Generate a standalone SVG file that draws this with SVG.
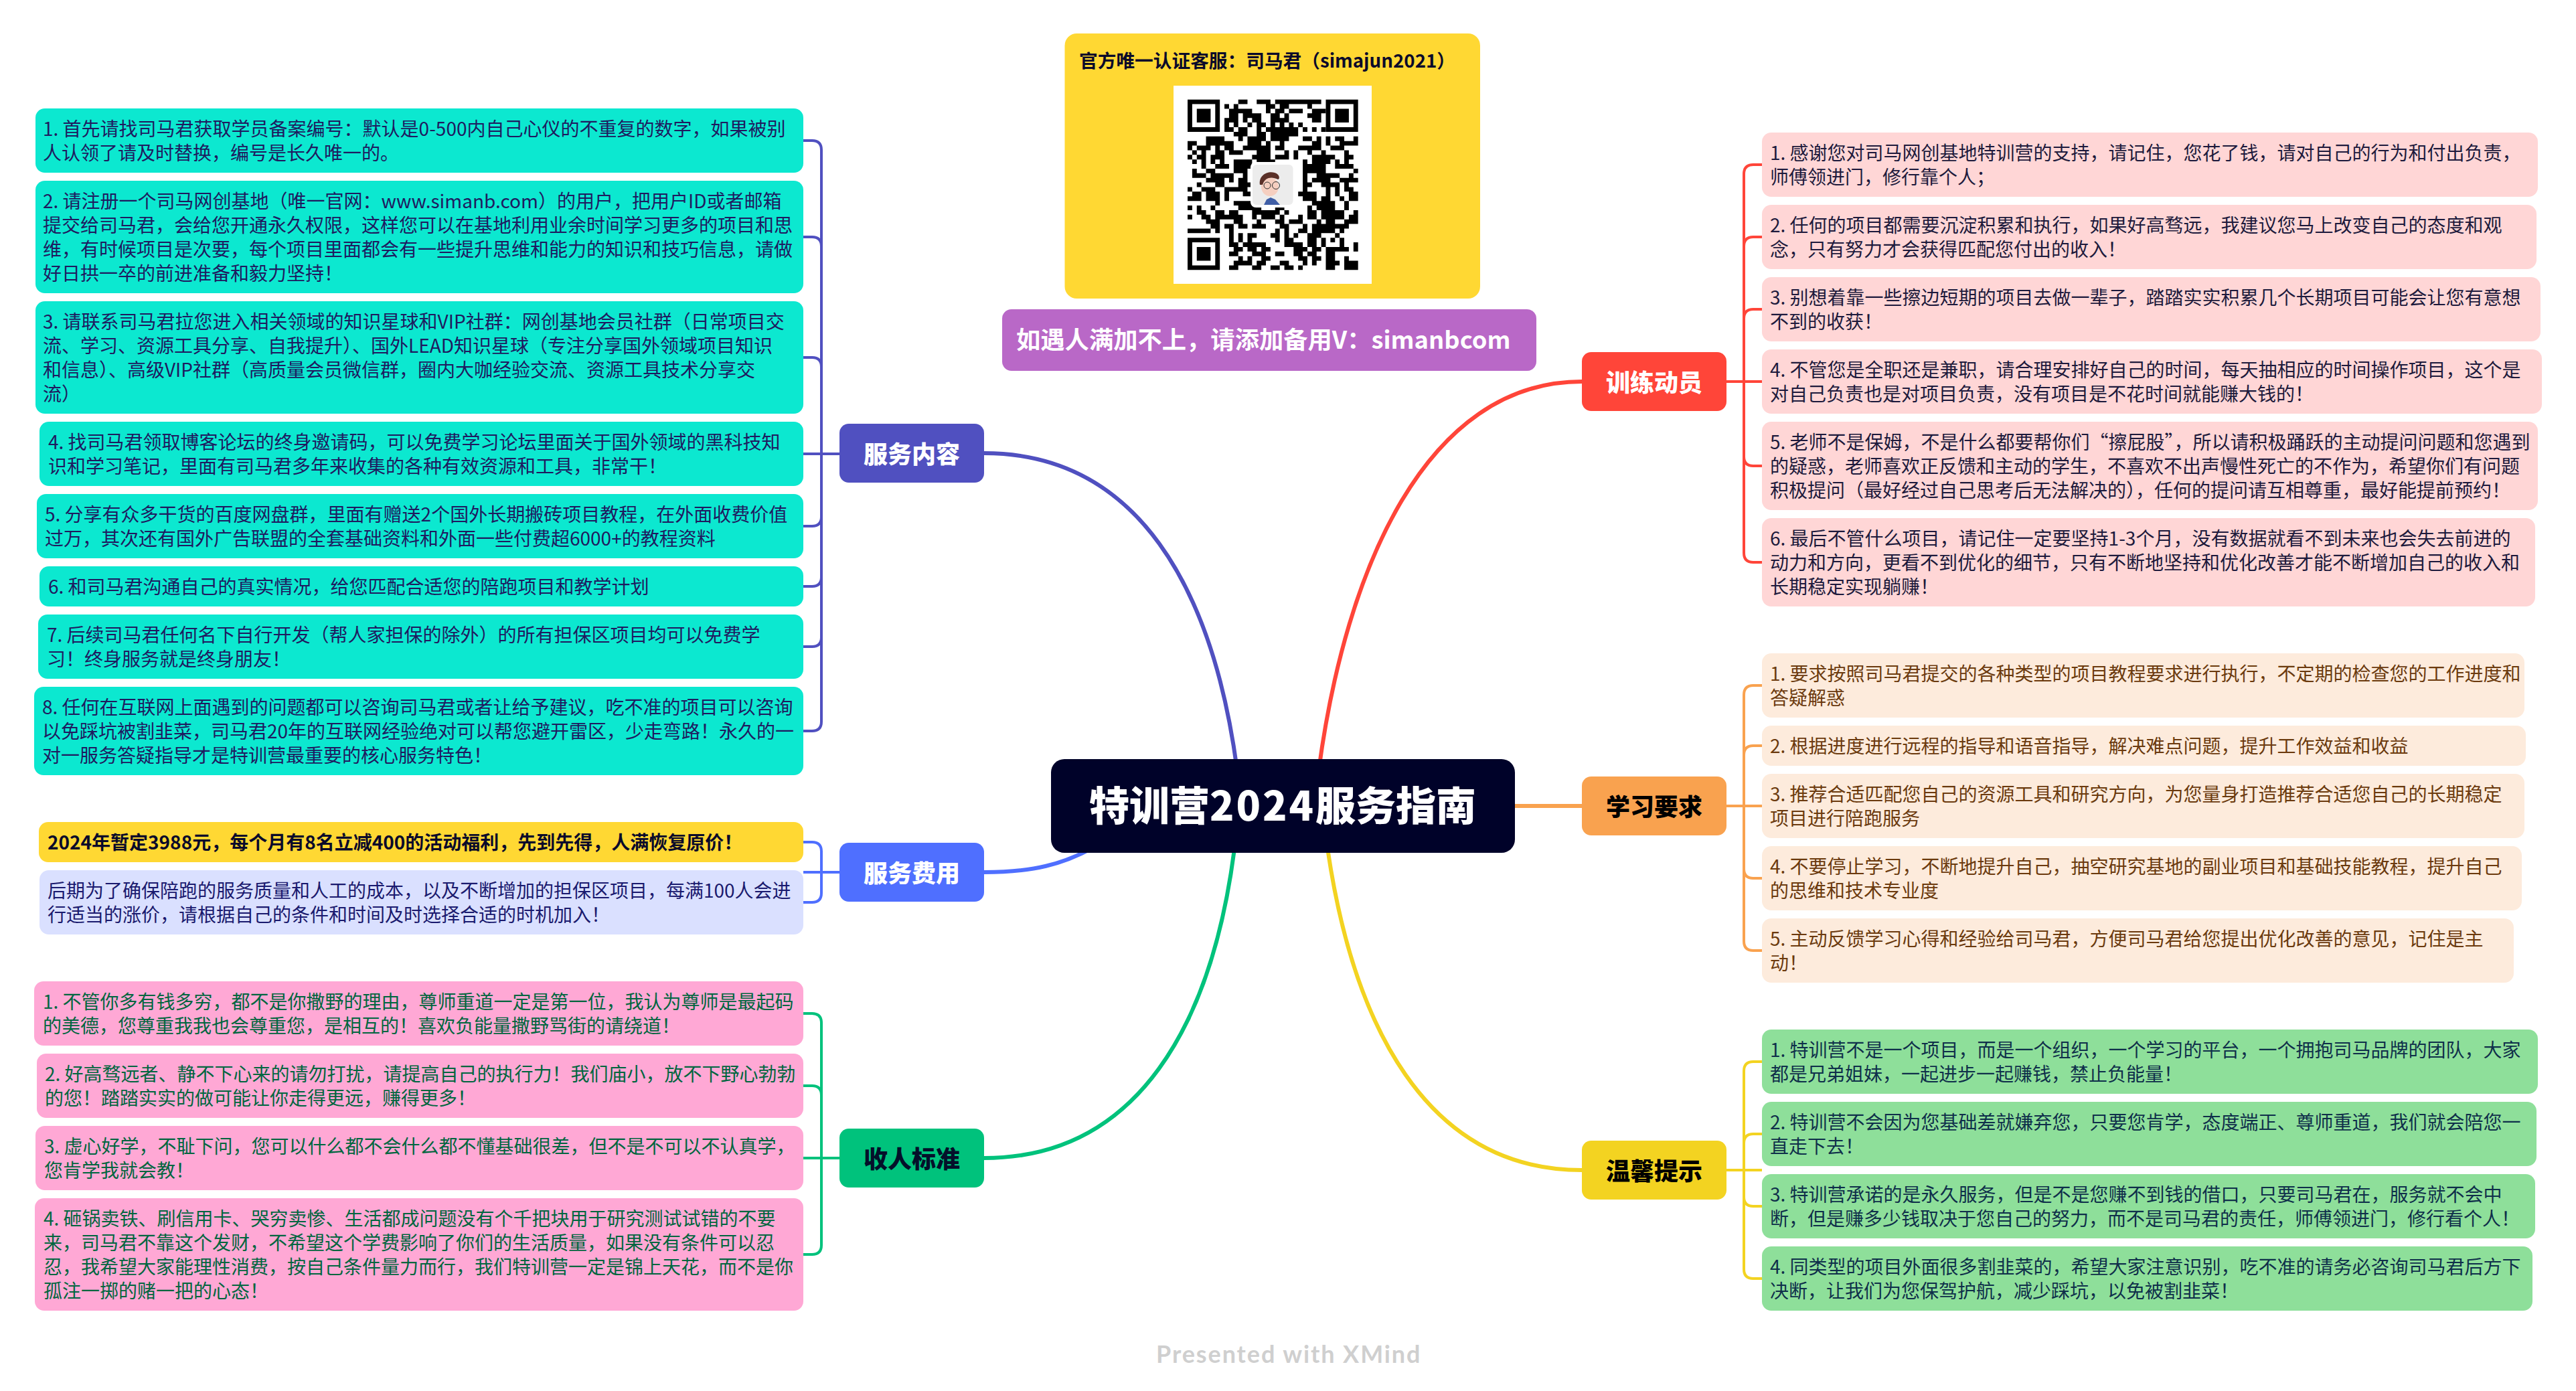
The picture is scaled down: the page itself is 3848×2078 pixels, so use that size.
<svg xmlns="http://www.w3.org/2000/svg" width="3848" height="2078" viewBox="0 0 3848 2078">
<style>
text{font-family:"Noto Sans CJK SC","Noto Sans",sans-serif;white-space:pre}
.t{font-size:28px;transform:translateY(1px)}
.nt{font-size:36px;font-weight:900;text-anchor:middle;transform:translateY(2px)}
.w{fill:#fff}.k{fill:#000}
.a{fill:#1f1a5f}.bf{fill:#1a1a6e}.g{fill:#00663f}.r{fill:#1d1a3c}.o{fill:#6b3a0e}.e{fill:#0f2f4a}
.mb{fill:#0ce8d0}.mp{fill:#ffa8d5}.mr{fill:#ffd6d6}.mo{fill:#fdebdc}.mg{fill:#8edf9a}
.c{fill:none;stroke-linecap:butt}
</style>
<rect width="3848" height="2078" fill="#fff"/>
<g id="connectors" class="c" fill="none" stroke-width="4">
<g stroke-width="6" fill="none">
<path d="M1848 1150C1812 880 1700 677 1470 677" stroke="#5050c0"/>
<path d="M1640 1262C1590 1292 1540 1303 1470 1303" stroke="#4f6fff"/>
<path d="M1845 1260C1812 1530 1700 1730 1470 1730" stroke="#00c27c"/>
<path d="M1970 1150C2010 850 2130 570 2363 570" stroke="#ff4539"/>
<path d="M2250 1204H2363" stroke="#f9a24f"/>
<path d="M1982 1260C2020 1530 2130 1748 2363 1748" stroke="#f3d321"/>
</g>
<g stroke="#5050c0" fill="none"><path d="M1200 210H1213Q1227 210 1227 224V1078Q1227 1092 1213 1092H1200M1200 354H1213Q1227 354 1227 368M1200 534H1213Q1227 534 1227 548M1200 678H1254M1227 772Q1227 786 1213 786H1200M1227 862Q1227 876 1213 876H1200M1227 952Q1227 966 1213 966H1200"/></g>
<g stroke="#4f6fff" fill="none"><path d="M1200 1258H1213Q1227 1258 1227 1272V1334Q1227 1348 1213 1348H1200M1200 1303H1254"/></g>
<g stroke="#00c27c" fill="none"><path d="M1200 1514H1213Q1227 1514 1227 1528V1860Q1227 1874 1213 1874H1200M1200 1622H1213Q1227 1622 1227 1636M1200 1730H1254"/></g>
<g stroke="#ff4539" fill="none"><path d="M2632 246H2619Q2605 246 2605 260V826Q2605 840 2619 840H2632M2632 354H2619Q2605 354 2605 368M2632 462H2619Q2605 462 2605 476M2579 570H2632M2605 682Q2605 696 2619 696H2632"/></g>
<g stroke="#f9a24f" fill="none"><path d="M2632 1024H2619Q2605 1024 2605 1038V1406Q2605 1420 2619 1420H2632M2632 1114H2619Q2605 1114 2605 1128M2579 1204H2632M2605 1298Q2605 1312 2619 1312H2632"/></g>
<g stroke="#f3d321" fill="none"><path d="M2632 1586H2619Q2605 1586 2605 1600V1896Q2605 1910 2619 1910H2632M2632 1694H2619Q2605 1694 2605 1708M2579 1748H2632M2605 1788Q2605 1802 2619 1802H2632"/></g>
</g>

<g id="center"><rect x="1570" y="1134" width="693" height="140" rx="20" fill="#000229"/><text x="1916" y="1226" font-size="60" font-weight="900" fill="#fff" text-anchor="middle">特训营<tspan letter-spacing="3">2024</tspan>服务指南</text></g>

<g id="qr-card">
<rect x="1590.500" y="50" width="620.500" height="396" rx="18" fill="#ffd833"/>
<text x="1612" y="101" font-size="27.700" font-weight="700" fill="#0a0a2a">官方唯一认证客服：司马君（simajun2021）</text>
<rect x="1753" y="128" width="296" height="296" fill="#fff"/>
<g transform="translate(1774 148.700) scale(6.883)">
<path d="M0 0h7v7h-7zM1 1v5h5v-5zM30 0h7v7h-7zM31 1v5h5v-5zM0 30h7v7h-7zM1 31v5h5v-5z" fill-rule="evenodd" fill="#000"/>
<path d="M2 2h3v3h-3zM32 2h3v3h-3zM2 32h3v3h-3z" fill="#000"/>
<path fill="none" stroke="#000" stroke-width="1" d="M11 .5h2m2 0h3m1 0h10M8 1.500h1m1 0h1m6 0h2m1 0h2m4 0h1M9 2.500h5m3 0h1m1 0h2m1 0h3m2 0h3M9 3.500h2m1 0h4m2 0h2m1 0h1m4 0h3M8 4.500h3m1 0h1m1 0h2m2 0h4m5 0h2M8 5.500h1m1 0h1m2 0h1m1 0h2m1 0h1m1 0h1m1 0h1m1 0h1M8 6.500h2m1 0h2m2 0h1m1 0h4m0 0h3m1 0h1m1 0h1m1 0h1M10 7.500h3m2 0h2m1 0h6M4 8.500h4m3 0h1m1 0h4m1 0h4m3 0h2m1 0h1m1 0h1m1 0h2m2 0h1M0 9.500h2m2 0h6m3 0h3m1 0h1m2 0h1m6 0h2m1 0h1m2 0h4M0 10.500h1m1 0h3m1 0h1m1 0h2m2 0h6m1 0h2m3 0h5m2 0h3M1 11.500h1m1 0h1m2 0h2m1 0h3m3 0h3m3 0h1m1 0h1m2 0h1m2 0h1m4 0h1M0 12.500h1m1 0h2m1 0h3m6 0h4m1 0h3m1 0h1m3 0h5m2 0h2M1 13.500h1m1 0h1m1 0h1m1 0h1m2 0h4m1 0h4m6 0h1m1 0h4m1 0h1m1 0h1M3 14.500h1m2 0h3m1 0h4m11 0h5m2 0h4M1 15.500h1m2 0h2m4 0h3m12 0h5m6 0h1M1 16.500h3m1 0h5m2 0h1m12 0h1m2 0h5m2 0h1M4 17.500h4m1 0h1m1 0h2m12 0h1m1 0h4m2 0h4M2 18.500h1m3 0h2m3 0h3m11 0h2m2 0h4m1 0h1M0 19.500h1m2 0h3m2 0h5m12 0h1m4 0h1m1 0h1m1 0h2M1 20.500h2m1 0h3m1 0h1m3 0h2m10 0h4m2 0h1m1 0h1m2 0h2M0 21.500h3m1 0h3m1 0h1m16 0h3m1 0h2m2 0h1m1 0h2M6 22.500h1m3 0h4m13 0h5m2 0h1M0 23.500h1m1 0h1m2 0h1m5 0h5m3 0h2m5 0h1m1 0h4m2 0h1M2 24.500h2m2 0h2m1 0h2m3 0h6m1 0h1m4 0h2m1 0h5m2 0h1M0 25.500h1m2 0h2m1 0h6m2 0h1m1 0h3m1 0h1m3 0h1m1 0h2m1 0h5m1 0h2M4 26.500h3m3 0h2m3 0h1m3 0h2m1 0h3m3 0h1m1 0h2m2 0h3M5 27.500h2m1 0h2m1 0h2m1 0h3m3 0h2m3 0h1m1 0h8M0 28.500h5m1 0h1m2 0h1m9 0h1m1 0h1m2 0h2m1 0h5m1 0h1M9 29.500h1m1 0h1m1 0h2m3 0h2m1 0h1m1 0h1m2 0h2m0 0h1m3 0h1M9 30.500h1m1 0h1m1 0h1m5 0h1m1 0h2m3 0h2m1 0h1m1 0h1m1 0h1M9 31.500h2m1 0h5m4 0h4m1 0h2m1 0h1m3 0h1m2 0h1M10 32.500h2m1 0h2m1 0h2m5 0h3m1 0h2m1 0h5m1 0h1M9 33.500h2m3 0h3m2 0h2m2 0h2m1 0h2m2 0h2M11 34.500h1m1 0h1m2 0h2m6 0h2m1 0h2m1 0h2m2 0h1M10 35.500h4m1 0h2m3 0h2m3 0h1m1 0h1m2 0h3m1 0h3M9 36.500h2m3 0h2m2 0h2m1 0h2m1 0h1m5 0h2m2 0h3"/>
</g>
<rect x="1868" y="242" width="67" height="68" rx="8" fill="#fff"/>
<rect x="1871" y="246" width="60.500" height="60" rx="6" fill="#ececec"/>
<path d="M1888 306L1892 298 1898 295 1905 298 1912 306Z" fill="#3f5ea6"/>
<ellipse cx="1897" cy="279" rx="13" ry="14" fill="#f6cfc0"/>
<path d="M1882 276C1880 262 1893 255 1904 258 1912 260 1912 268 1909 268 1900 264 1890 264 1886 276Z" fill="#5a3028"/>
<circle cx="1893" cy="277" r="5" fill="none" stroke="#333" stroke-width="1"/><circle cx="1906" cy="277" r="5.500" fill="none" stroke="#333" stroke-width="1"/>
</g>

<g id="backup-note"><rect x="1497" y="462" width="798" height="92" rx="14" fill="#b968c7"/><text x="1518" y="521" font-size="36.300" font-weight="700" fill="#fff">如遇人满加不上，请添加备用V：simanbcom</text></g>

<g id="branch-fuwu">
<g id="node-fuwu"><rect x="1254" y="633" width="216" height="88" rx="14" fill="#5050c0"/><text class="nt w" x="1362" y="690">服务内容</text></g>
<g id="fw1"><rect class="mb" x="53" y="162" width="1147" height="96" rx="14"/><text class="t a" x="64" y="202">1. 首先请找司马君获取学员备案编号：默认是0-500内自己心仪的不重复的数字，如果被别</text><text class="t a" x="64" y="238">人认领了请及时替换，编号是长久唯一的。</text></g>
<g id="fw2"><rect class="mb" x="53" y="270" width="1147" height="168" rx="14"/><text class="t a" x="64" y="310">2. 请注册一个司马网创基地（唯一官网：www.simanb.com）的用户，把用户ID或者邮箱</text><text class="t a" x="64" y="346">提交给司马君，会给您开通永久权限，这样您可以在基地利用业余时间学习更多的项目和思</text><text class="t a" x="64" y="382">维，有时候项目是次要，每个项目里面都会有一些提升思维和能力的知识和技巧信息，请做</text><text class="t a" x="64" y="418">好日拱一卒的前进准备和毅力坚持！</text></g>
<g id="fw3"><rect class="mb" x="53" y="450" width="1147" height="168" rx="14"/><text class="t a" x="64" y="490">3. 请联系司马君拉您进入相关领域的知识星球和VIP社群：网创基地会员社群（日常项目交</text><text class="t a" x="64" y="526">流、学习、资源工具分享、自我提升）、国外LEAD知识星球（专注分享国外领域项目知识</text><text class="t a" x="64" y="562">和信息）、高级VIP社群（高质量会员微信群，圈内大咖经验交流、资源工具技术分享交</text><text class="t a" x="64" y="598">流）</text></g>
<g id="fw4"><rect class="mb" x="59" y="630" width="1141" height="96" rx="14"/><text class="t a" x="72" y="670">4. 找司马君领取博客论坛的终身邀请码，可以免费学习论坛里面关于国外领域的黑科技知</text><text class="t a" x="72" y="706">识和学习笔记，里面有司马君多年来收集的各种有效资源和工具，非常干！</text></g>
<g id="fw5"><rect class="mb" x="55" y="738" width="1145" height="96" rx="14"/><text class="t a" x="67" y="778">5. 分享有众多干货的百度网盘群，里面有赠送2个国外长期搬砖项目教程，在外面收费价值</text><text class="t a" x="67" y="814">过万，其次还有国外广告联盟的全套基础资料和外面一些付费超6000+的教程资料</text></g>
<g id="fw6"><rect class="mb" x="59" y="846" width="1141" height="60" rx="14"/><text class="t a" x="72" y="886">6. 和司马君沟通自己的真实情况，给您匹配合适您的陪跑项目和教学计划</text></g>
<g id="fw7"><rect class="mb" x="57" y="918" width="1143" height="96" rx="14"/><text class="t a" x="70" y="958">7. 后续司马君任何名下自行开发（帮人家担保的除外）的所有担保区项目均可以免费学</text><text class="t a" x="70" y="994">习！终身服务就是终身朋友！</text></g>
<g id="fw8"><rect class="mb" x="51" y="1026" width="1149" height="132" rx="14"/><text class="t a" x="63" y="1066">8. 任何在互联网上面遇到的问题都可以咨询司马君或者让给予建议，吃不准的项目可以咨询</text><text class="t a" x="63" y="1102">以免踩坑被割韭菜，司马君20年的互联网经验绝对可以帮您避开雷区，少走弯路！永久的一</text><text class="t a" x="63" y="1138">对一服务答疑指导才是特训营最重要的核心服务特色！</text></g>
</g>

<g id="branch-fee">
<g id="node-fee"><rect x="1254" y="1259" width="216" height="88" rx="14" fill="#4f6fff"/><text class="nt w" x="1362" y="1316">服务费用</text></g>
<g id="fee1"><rect x="58" y="1228" width="1142" height="60" rx="14" fill="#ffd833"/><text class="t" font-weight="700" fill="#0a0a2a" x="71" y="1268">2024年暂定3988元，每个月有8名立减400的活动福利，先到先得，人满恢复原价！</text></g>
<g id="fee2"><rect x="59" y="1300" width="1141" height="96" rx="14" fill="#dae0ff"/><text class="t bf" x="71" y="1340">后期为了确保陪跑的服务质量和人工的成本，以及不断增加的担保区项目，每满100人会进</text><text class="t bf" x="71" y="1376">行适当的涨价，请根据自己的条件和时间及时选择合适的时机加入！</text></g>
</g>

<g id="branch-standard">
<g id="node-standard"><rect x="1254" y="1686" width="216" height="88" rx="14" fill="#00c27c"/><text class="nt" fill="#04102a" x="1362" y="1743">收人标准</text></g>
<g id="st1"><rect class="mp" x="51" y="1466" width="1149" height="96" rx="14"/><text class="t g" x="64" y="1506">1. 不管你多有钱多穷，都不是你撒野的理由，尊师重道一定是第一位，我认为尊师是最起码</text><text class="t g" x="64" y="1542">的美德，您尊重我我也会尊重您，是相互的！喜欢负能量撒野骂街的请绕道！</text></g>
<g id="st2"><rect class="mp" x="55" y="1574" width="1145" height="96" rx="14"/><text class="t g" x="67" y="1614">2. 好高骛远者、静不下心来的请勿打扰，请提高自己的执行力！我们庙小，放不下野心勃勃</text><text class="t g" x="67" y="1650">的您！踏踏实实的做可能让你走得更远，赚得更多！</text></g>
<g id="st3"><rect class="mp" x="53" y="1682" width="1147" height="96" rx="14"/><text class="t g" x="66" y="1722">3. 虚心好学，不耻下问，您可以什么都不会什么都不懂基础很差，但不是不可以不认真学，</text><text class="t g" x="66" y="1758">您肯学我就会教！</text></g>
<g id="st4"><rect class="mp" x="52" y="1790" width="1148" height="168" rx="14"/><text class="t g" x="65" y="1830">4. 砸锅卖铁、刷信用卡、哭穷卖惨、生活都成问题没有个千把块用于研究测试试错的不要</text><text class="t g" x="65" y="1866">来，司马君不靠这个发财，不希望这个学费影响了你们的生活质量，如果没有条件可以忍</text><text class="t g" x="65" y="1902">忍，我希望大家能理性消费，按自己条件量力而行，我们特训营一定是锦上天花，而不是你</text><text class="t g" x="65" y="1938">孤注一掷的赌一把的心态！</text></g>
</g>

<g id="branch-train">
<g id="node-train"><rect x="2363" y="526" width="216" height="88" rx="14" fill="#ff4539"/><text class="nt w" x="2471" y="583">训练动员</text></g>
<g id="tr1"><rect class="mr" x="2632" y="198" width="1159" height="96" rx="14"/><text class="t r" x="2644" y="238">1. 感谢您对司马网创基地特训营的支持，请记住，您花了钱，请对自己的行为和付出负责，</text><text class="t r" x="2644" y="274">师傅领进门，修行靠个人；</text></g>
<g id="tr2"><rect class="mr" x="2632" y="306" width="1157" height="96" rx="14"/><text class="t r" x="2644" y="346">2. 任何的项目都需要沉淀积累和执行，如果好高骛远，我建议您马上改变自己的态度和观</text><text class="t r" x="2644" y="382">念，只有努力才会获得匹配您付出的收入！</text></g>
<g id="tr3"><rect class="mr" x="2632" y="414" width="1163" height="96" rx="14"/><text class="t r" x="2644" y="454">3. 别想着靠一些擦边短期的项目去做一辈子，踏踏实实积累几个长期项目可能会让您有意想</text><text class="t r" x="2644" y="490">不到的收获！</text></g>
<g id="tr4"><rect class="mr" x="2632" y="522" width="1165" height="96" rx="14"/><text class="t r" x="2644" y="562">4. 不管您是全职还是兼职，请合理安排好自己的时间，每天抽相应的时间操作项目，这个是</text><text class="t r" x="2644" y="598">对自己负责也是对项目负责，没有项目是不花时间就能赚大钱的！</text></g>
<g id="tr5"><rect class="mr" x="2632" y="630" width="1159" height="132" rx="14"/><text class="t r" x="2644" y="670">5. 老师不是保姆，不是什么都要帮你们“擦屁股”，所以请积极踊跃的主动提问问题和您遇到</text><text class="t r" x="2644" y="706">的疑惑，老师喜欢正反馈和主动的学生，不喜欢不出声慢性死亡的不作为，希望你们有问题</text><text class="t r" x="2644" y="742">积极提问（最好经过自己思考后无法解决的），任何的提问请互相尊重，最好能提前预约！</text></g>
<g id="tr6"><rect class="mr" x="2632" y="774" width="1155" height="132" rx="14"/><text class="t r" x="2644" y="814">6. 最后不管什么项目，请记住一定要坚持1-3个月，没有数据就看不到未来也会失去前进的</text><text class="t r" x="2644" y="850">动力和方向，更看不到优化的细节，只有不断地坚持和优化改善才能不断增加自己的收入和</text><text class="t r" x="2644" y="886">长期稳定实现躺赚！</text></g>
</g>

<g id="branch-study">
<g id="node-study"><rect x="2363" y="1160" width="216" height="88" rx="14" fill="#f9a24f"/><text class="nt k" x="2471" y="1217">学习要求</text></g>
<g id="sd1"><rect class="mo" x="2632" y="976" width="1139" height="96" rx="14"/><text class="t o" x="2644" y="1016">1. 要求按照司马君提交的各种类型的项目教程要求进行执行，不定期的检查您的工作进度和</text><text class="t o" x="2644" y="1052">答疑解惑</text></g>
<g id="sd2"><rect class="mo" x="2632" y="1084" width="1141" height="60" rx="14"/><text class="t o" x="2644" y="1124">2. 根据进度进行远程的指导和语音指导，解决难点问题，提升工作效益和收益</text></g>
<g id="sd3"><rect class="mo" x="2632" y="1156" width="1139" height="96" rx="14"/><text class="t o" x="2644" y="1196">3. 推荐合适匹配您自己的资源工具和研究方向，为您量身打造推荐合适您自己的长期稳定</text><text class="t o" x="2644" y="1232">项目进行陪跑服务</text></g>
<g id="sd4"><rect class="mo" x="2632" y="1264" width="1135" height="96" rx="14"/><text class="t o" x="2644" y="1304">4. 不要停止学习，不断地提升自己，抽空研究基地的副业项目和基础技能教程，提升自己</text><text class="t o" x="2644" y="1340">的思维和技术专业度</text></g>
<g id="sd5"><rect class="mo" x="2632" y="1372" width="1123" height="96" rx="14"/><text class="t o" x="2644" y="1412">5. 主动反馈学习心得和经验给司马君，方便司马君给您提出优化改善的意见，记住是主</text><text class="t o" x="2644" y="1448">动！</text></g>
</g>

<g id="branch-tips">
<g id="node-tips"><rect x="2363" y="1704" width="216" height="88" rx="14" fill="#f3d321"/><text class="nt k" x="2471" y="1761">温馨提示</text></g>
<g id="tp1"><rect class="mg" x="2632" y="1538" width="1159" height="96" rx="14"/><text class="t e" x="2644" y="1578">1. 特训营不是一个项目，而是一个组织，一个学习的平台，一个拥抱司马品牌的团队，大家</text><text class="t e" x="2644" y="1614">都是兄弟姐妹，一起进步一起赚钱，禁止负能量！</text></g>
<g id="tp2"><rect class="mg" x="2632" y="1646" width="1157" height="96" rx="14"/><text class="t e" x="2644" y="1686">2. 特训营不会因为您基础差就嫌弃您，只要您肯学，态度端正、尊师重道，我们就会陪您一</text><text class="t e" x="2644" y="1722">直走下去！</text></g>
<g id="tp3"><rect class="mg" x="2632" y="1754" width="1155" height="96" rx="14"/><text class="t e" x="2644" y="1794">3. 特训营承诺的是永久服务，但是不是您赚不到钱的借口，只要司马君在，服务就不会中</text><text class="t e" x="2644" y="1830">断，但是赚多少钱取决于您自己的努力，而不是司马君的责任，师傅领进门，修行看个人！</text></g>
<g id="tp4"><rect class="mg" x="2632" y="1862" width="1151" height="96" rx="14"/><text class="t e" x="2644" y="1902">4. 同类型的项目外面很多割韭菜的，希望大家注意识别，吃不准的请务必咨询司马君后方下</text><text class="t e" x="2644" y="1938">决断，让我们为您保驾护航，减少踩坑，以免被割韭菜！</text></g>
</g>

<text id="footer" x="1727" y="2036" font-size="36" font-weight="700" fill="#cfcfcf" style="font-family:Lato,sans-serif" letter-spacing="1.900">Presented with XMind</text>
</svg>
